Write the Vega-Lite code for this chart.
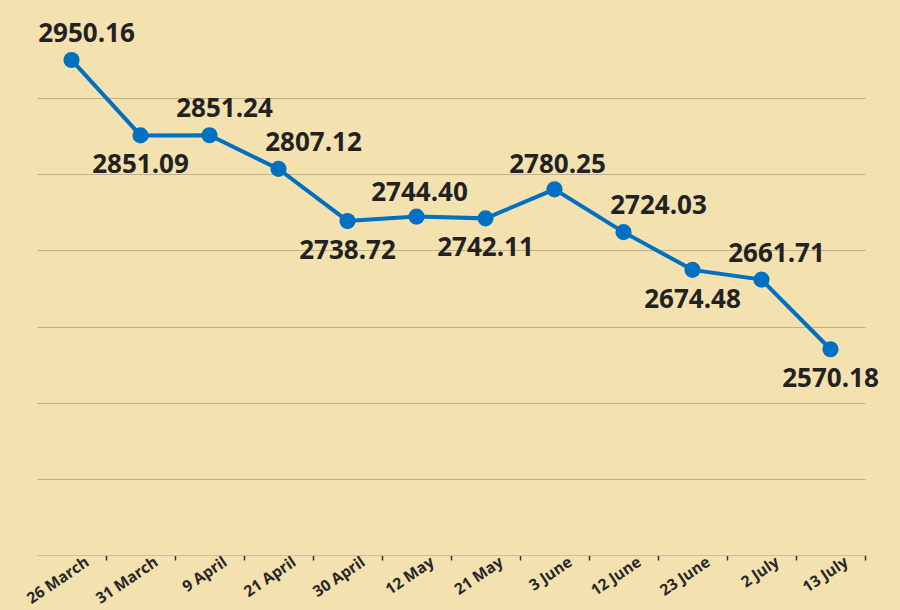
{
  "$schema": "https://vega.github.io/schema/vega-lite/v6.json",
  "background": "#f4e1b0",
  "autosize": "none",
  "padding": {"left": 37, "top": 22, "right": 35, "bottom": 55},
  "width": 828,
  "height": 533,
  "data": {
    "values": [
      {"date": "26 March", "value": 2950.16},
      {"date": "31 March", "value": 2851.09},
      {"date": "9 April", "value": 2851.24},
      {"date": "21 April", "value": 2807.12},
      {"date": "30 April", "value": 2738.72},
      {"date": "12 May", "value": 2744.40},
      {"date": "21 May", "value": 2742.11},
      {"date": "3 June", "value": 2780.25},
      {"date": "12 June", "value": 2724.03},
      {"date": "23 June", "value": 2674.48},
      {"date": "2 July", "value": 2661.71},
      {"date": "13 July", "value": 2570.18}
    ]
  },
  "encoding": {
    "x": {
      "field": "date",
      "type": "nominal",
      "sort": null,
      "title": null,
      "scale": {"type": "band", "paddingInner": 0, "paddingOuter": 0},
      "axis": {
        "bandPosition": 1,
        "grid": false,
        "domainColor": "#cbbf9f",
        "domainWidth": 1,
        "tickColor": "#333333",
        "tickSize": 5,
        "tickWidth": 1.5,
        "labelAngle": -34,
        "labelAlign": "right",
        "labelBaseline": "middle",
        "labelFont": "Open Sans",
        "labelFontWeight": "bold",
        "labelFontSize": 15.5,
        "labelColor": "#262626",
        "labelOffset": 16,
        "labelPadding": 0
      }
    },
    "y": {
      "field": "value",
      "type": "quantitative",
      "title": null,
      "scale": {"domain": [2300, 3000], "nice": false, "zero": false},
      "axis": {
        "values": [2400, 2500, 2600, 2700, 2800, 2900],
        "labels": false,
        "ticks": false,
        "domain": false,
        "grid": true,
        "gridColor": "#bcb08f",
        "gridWidth": 1
      }
    }
  },
  "layer": [
    {"mark": {"type": "line", "color": "#0070c0", "strokeWidth": 4}},
    {"mark": {"type": "point", "filled": true, "size": 260, "color": "#0070c0", "opacity": 1}},
    {
      "transform": [{"filter": {"field": "date", "oneOf": ["26 March", "9 April", "2 July"]}}],
      "mark": {"type": "text", "font": "Open Sans", "fontWeight": "bold", "fontSize": 26, "color": "#222222", "dx": 15, "dy": -26},
      "encoding": {"text": {"field": "value", "type": "quantitative", "format": ".2f"}}
    },
    {
      "transform": [{"filter": {"field": "date", "oneOf": ["12 May", "3 June"]}}],
      "mark": {"type": "text", "font": "Open Sans", "fontWeight": "bold", "fontSize": 26, "color": "#222222", "dx": 3, "dy": -24},
      "encoding": {"text": {"field": "value", "type": "quantitative", "format": ".2f"}}
    },
    {
      "transform": [{"filter": {"field": "date", "oneOf": ["21 April", "12 June"]}}],
      "mark": {"type": "text", "font": "Open Sans", "fontWeight": "bold", "fontSize": 26, "color": "#222222", "dx": 35, "dy": -26},
      "encoding": {"text": {"field": "value", "type": "quantitative", "format": ".2f"}}
    },
    {
      "transform": [{"filter": {"field": "date", "oneOf": ["31 March", "30 April", "21 May", "23 June", "13 July"]}}],
      "mark": {"type": "text", "font": "Open Sans", "fontWeight": "bold", "fontSize": 26, "color": "#222222", "dx": 0, "dy": 30},
      "encoding": {"text": {"field": "value", "type": "quantitative", "format": ".2f"}}
    }
  ],
  "config": {
    "view": {"stroke": null}
  }
}
